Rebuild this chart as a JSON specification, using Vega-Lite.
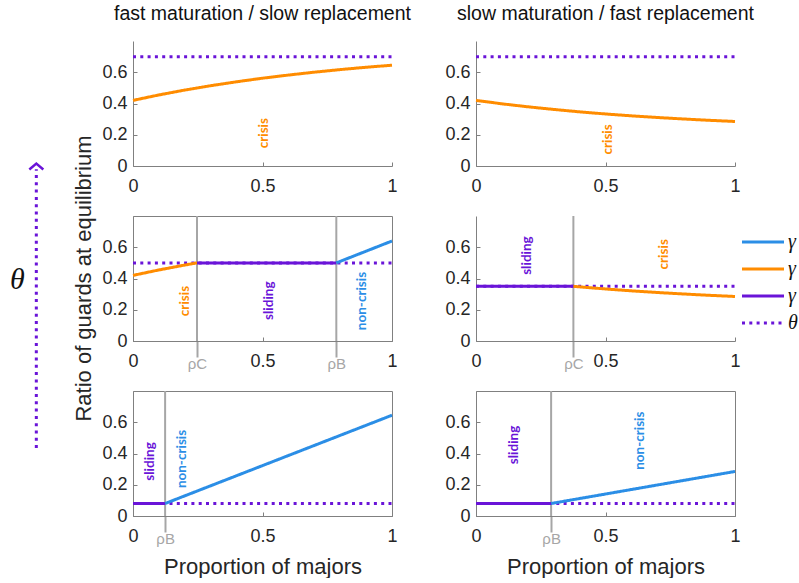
{
"$schema": "https://vega.github.io/schema/vega-lite/v6.json",
"background": "white",
"padding": {"left": 5, "top": 3, "right": 0, "bottom": 0},
"datasets": {
"lines": [
{"panel":"TL","series":"th","x":0,"y":0.7},{"panel":"TL","series":"th","x":1,"y":0.7},
{"panel":"TL","series":"c","x":0,"y":0.42},{"panel":"TL","series":"c","x":0.1,"y":0.4548},{"panel":"TL","series":"c","x":0.2,"y":0.486},{"panel":"TL","series":"c","x":0.3,"y":0.514},{"panel":"TL","series":"c","x":0.4,"y":0.539},{"panel":"TL","series":"c","x":0.5,"y":0.562},{"panel":"TL","series":"c","x":0.6,"y":0.582},{"panel":"TL","series":"c","x":0.7,"y":0.6005},{"panel":"TL","series":"c","x":0.8,"y":0.617},{"panel":"TL","series":"c","x":0.9,"y":0.632},{"panel":"TL","series":"c","x":1,"y":0.645},
{"panel":"TR","series":"th","x":0,"y":0.7},{"panel":"TR","series":"th","x":1,"y":0.7},
{"panel":"TR","series":"c","x":0,"y":0.42},{"panel":"TR","series":"c","x":0.1,"y":0.398},{"panel":"TR","series":"c","x":0.2,"y":0.379},{"panel":"TR","series":"c","x":0.3,"y":0.362},{"panel":"TR","series":"c","x":0.4,"y":0.3466},{"panel":"TR","series":"c","x":0.5,"y":0.333},{"panel":"TR","series":"c","x":0.6,"y":0.321},{"panel":"TR","series":"c","x":0.7,"y":0.3104},{"panel":"TR","series":"c","x":0.8,"y":0.301},{"panel":"TR","series":"c","x":0.9,"y":0.2925},{"panel":"TR","series":"c","x":1,"y":0.285},
{"panel":"ML","series":"th","x":0,"y":0.5},{"panel":"ML","series":"th","x":1,"y":0.5},
{"panel":"ML","series":"c","x":0,"y":0.42},{"panel":"ML","series":"c","x":0.1,"y":0.4548},{"panel":"ML","series":"c","x":0.2,"y":0.486},{"panel":"ML","series":"c","x":0.247,"y":0.5},
{"panel":"ML","series":"s","x":0.247,"y":0.5},{"panel":"ML","series":"s","x":0.785,"y":0.5},
{"panel":"ML","series":"nc","x":0.785,"y":0.5},{"panel":"ML","series":"nc","x":1,"y":0.64},
{"panel":"MR","series":"th","x":0,"y":0.35},{"panel":"MR","series":"th","x":1,"y":0.35},
{"panel":"MR","series":"s","x":0,"y":0.35},{"panel":"MR","series":"s","x":0.376,"y":0.35},
{"panel":"MR","series":"c","x":0.376,"y":0.35},{"panel":"MR","series":"c","x":0.4,"y":0.3466},{"panel":"MR","series":"c","x":0.5,"y":0.333},{"panel":"MR","series":"c","x":0.6,"y":0.321},{"panel":"MR","series":"c","x":0.7,"y":0.3104},{"panel":"MR","series":"c","x":0.8,"y":0.301},{"panel":"MR","series":"c","x":0.9,"y":0.2925},{"panel":"MR","series":"c","x":1,"y":0.285},
{"panel":"BL","series":"th","x":0,"y":0.08},{"panel":"BL","series":"th","x":1,"y":0.08},
{"panel":"BL","series":"s","x":0,"y":0.08},{"panel":"BL","series":"s","x":0.124,"y":0.08},
{"panel":"BL","series":"nc","x":0.124,"y":0.08},{"panel":"BL","series":"nc","x":1,"y":0.645},
{"panel":"BR","series":"th","x":0,"y":0.08},{"panel":"BR","series":"th","x":1,"y":0.08},
{"panel":"BR","series":"s","x":0,"y":0.08},{"panel":"BR","series":"s","x":0.29,"y":0.08},
{"panel":"BR","series":"nc","x":0.29,"y":0.08},{"panel":"BR","series":"nc","x":1,"y":0.285}
],
"labels": [
{"panel":"TL","series":"c","text":"crisis","x":0.507,"y":0.21},
{"panel":"TR","series":"c","text":"crisis","x":0.51,"y":0.17},
{"panel":"ML","series":"c","text":"crisis","x":0.2,"y":0.256},
{"panel":"ML","series":"s","text":"sliding","x":0.526,"y":0.258},
{"panel":"ML","series":"nc","text":"non-crisis","x":0.883,"y":0.256},
{"panel":"MR","series":"s","text":"sliding","x":0.198,"y":0.547},
{"panel":"MR","series":"c","text":"crisis","x":0.727,"y":0.555},
{"panel":"BL","series":"s","text":"sliding","x":0.066,"y":0.349},
{"panel":"BL","series":"nc","text":"non-crisis","x":0.188,"y":0.365},
{"panel":"BR","series":"s","text":"sliding","x":0.147,"y":0.455},
{"panel":"BR","series":"nc","text":"non-crisis","x":0.633,"y":0.482}
],
"rho": [
{"panel":"ML","x":0.247},{"panel":"ML","x":0.785},{"panel":"MR","x":0.376},{"panel":"BL","x":0.124},{"panel":"BR","x":0.29}
],
"strip": [
{"kind":"shaft","x":0.261,"y":0.143,"y2":0.73},
{"kind":"head","x":0.261,"y":0.742},
{"kind":"theta","x":0.104,"y":0.497,"label":"θ"},
{"kind":"title","x":0.658,"y":0.5,"label":"Ratio of guards at equilibrium"}
]
},
"spacing": 8,
"bounds": "flush",
"resolve": {"scale": {"color": "independent", "strokeDash": "independent"}, "legend": {"color": "independent", "strokeDash": "independent"}},
"hconcat": [
{
"width": 120, "height": 475,
"encoding": {
"x": {"field": "x", "type": "quantitative", "scale": {"domain": [0, 1], "nice": false}, "axis": null},
"y": {"field": "y", "type": "quantitative", "scale": {"domain": [0, 1], "nice": false}, "axis": null}
},
"layer": [
{"data": {"name": "strip"}, "transform": [{"filter": "datum.kind=='shaft'"}], "mark": {"type": "rule", "color": "#6a14d8", "strokeWidth": 3, "strokeDash": [3, 4.3]}, "encoding": {"y2": {"field": "y2"}}},
{"data": {"name": "strip"}, "transform": [{"filter": "datum.kind=='head'"}], "mark": {"type": "point", "shape": "M-1,0.85L0,0L1,0.85", "filled": false, "stroke": "#6a14d8", "strokeWidth": 2.5, "size": 196, "opacity": 1}, "encoding": {}},
{"data": {"name": "strip"}, "transform": [{"filter": "datum.kind=='theta'"}], "mark": {"type": "text", "font": "Liberation Serif", "fontStyle": "italic", "fontSize": 30, "color": "#111111", "baseline": "middle", "align": "center"}, "encoding": {"text": {"field": "label"}}},
{"data": {"name": "strip"}, "transform": [{"filter": "datum.kind=='title'"}], "mark": {"type": "text", "font": "Liberation Sans", "fontSize": 22, "color": "#262626", "angle": 270, "baseline": "middle", "align": "center"}, "encoding": {"text": {"field": "label"}}}
]
},
{
"columns": 2,
"spacing": {"row": 50, "column": 84},
"bounds": "flush",
"resolve": {"scale": {"color": "independent", "strokeDash": "independent"}, "legend": {"color": "independent", "strokeDash": "independent"}},
"concat": [
{
"width": 259, "height": 125,
"title": {"text": "fast maturation / slow replacement"},
"encoding": {"x": {"field": "x", "type": "quantitative", "scale": {"domain": [0, 1], "nice": false}, "axis": {"values": [0, 0.5, 1], "format": "~g", "title": null, "tickSize": -4, "labelPadding": 15}}},
"layer": [
{"data": {"name": "lines"}, "transform": [{"filter": "datum.panel=='TL' && datum.series=='th'"}], "mark": {"type": "line", "strokeWidth": 3}, "encoding": {
"y": {"field": "y", "type": "quantitative", "scale": {"domain": [0, 0.8], "nice": false}, "axis": {"values": [0, 0.2, 0.4, 0.6], "format": "~g", "title": null, "tickSize": -4, "labelPadding": 10}},
"color": {"field": "series", "type": "nominal", "scale": {"domain": ["nc", "c", "s", "th"], "range": ["#2b8ee6", "#ff8c00", "#6a14d8", "#6a14d8"]}, "legend": null},
"strokeDash": {"field": "series", "type": "nominal", "scale": {"domain": ["nc", "c", "s", "th"], "range": [[1, 0], [1, 0], [1, 0], [3, 4.3]]}, "legend": null}}},
{"data": {"name": "lines"}, "transform": [{"filter": "datum.panel=='TL' && datum.series!='th'"}], "mark": {"type": "line", "strokeWidth": 3}, "encoding": {
"y": {"field": "y", "type": "quantitative", "scale": {"domain": [0, 0.8], "nice": false}},
"color": {"field": "series", "type": "nominal", "scale": {"domain": ["nc", "c", "s", "th"], "range": ["#2b8ee6", "#ff8c00", "#6a14d8", "#6a14d8"]}, "legend": null},
"strokeDash": {"field": "series", "type": "nominal", "scale": {"domain": ["nc", "c", "s", "th"], "range": [[1, 0], [1, 0], [1, 0], [3, 4.3]]}, "legend": null}}},
{"data": {"name": "labels"}, "transform": [{"filter": "datum.panel=='TL'"}], "mark": {"type": "text", "angle": 270, "font": "Lato", "fontWeight": "bold", "fontSize": 13.5, "baseline": "middle", "align": "center"}, "encoding": {
"y": {"field": "y", "type": "quantitative", "scale": {"domain": [0, 0.8], "nice": false}},
"text": {"field": "text"},
"color": {"condition": [{"test": "datum.series=='c'", "value": "#ff8c00"}, {"test": "datum.series=='s'", "value": "#6a14d8"}], "value": "#2b8ee6"}}}
]
},
{
"width": 259, "height": 125,
"title": {"text": "slow maturation / fast replacement"},
"encoding": {"x": {"field": "x", "type": "quantitative", "scale": {"domain": [0, 1], "nice": false}, "axis": {"values": [0, 0.5, 1], "format": "~g", "title": null, "tickSize": -4, "labelPadding": 15}}},
"layer": [
{"data": {"name": "lines"}, "transform": [{"filter": "datum.panel=='TR' && datum.series=='th'"}], "mark": {"type": "line", "strokeWidth": 3}, "encoding": {
"y": {"field": "y", "type": "quantitative", "scale": {"domain": [0, 0.8], "nice": false}, "axis": {"values": [0, 0.2, 0.4, 0.6], "format": "~g", "title": null, "tickSize": -4, "labelPadding": 10}},
"color": {"field": "series", "type": "nominal", "scale": {"domain": ["nc", "c", "s", "th"], "range": ["#2b8ee6", "#ff8c00", "#6a14d8", "#6a14d8"]}, "legend": null},
"strokeDash": {"field": "series", "type": "nominal", "scale": {"domain": ["nc", "c", "s", "th"], "range": [[1, 0], [1, 0], [1, 0], [3, 4.3]]}, "legend": null}}},
{"data": {"name": "lines"}, "transform": [{"filter": "datum.panel=='TR' && datum.series!='th'"}], "mark": {"type": "line", "strokeWidth": 3}, "encoding": {
"y": {"field": "y", "type": "quantitative", "scale": {"domain": [0, 0.8], "nice": false}},
"color": {"field": "series", "type": "nominal", "scale": {"domain": ["nc", "c", "s", "th"], "range": ["#2b8ee6", "#ff8c00", "#6a14d8", "#6a14d8"]}, "legend": null},
"strokeDash": {"field": "series", "type": "nominal", "scale": {"domain": ["nc", "c", "s", "th"], "range": [[1, 0], [1, 0], [1, 0], [3, 4.3]]}, "legend": null}}},
{"data": {"name": "labels"}, "transform": [{"filter": "datum.panel=='TR'"}], "mark": {"type": "text", "angle": 270, "font": "Lato", "fontWeight": "bold", "fontSize": 13.5, "baseline": "middle", "align": "center"}, "encoding": {
"y": {"field": "y", "type": "quantitative", "scale": {"domain": [0, 0.8], "nice": false}},
"text": {"field": "text"},
"color": {"condition": [{"test": "datum.series=='c'", "value": "#ff8c00"}, {"test": "datum.series=='s'", "value": "#6a14d8"}], "value": "#2b8ee6"}}}
]
},
{
"width": 259, "height": 125,
"view": {"stroke": "#808080"},
"encoding": {"x": {"field": "x", "type": "quantitative", "scale": {"domain": [0, 1], "nice": false}, "axis": {"values": [0, 0.247, 0.5, 0.785, 1], "format": "~g", "title": null, "labelExpr": "datum.value==0.247?'ρC':datum.value==0.785?'ρB':datum.label",
"tickSize": {"condition": {"test": "datum.value!=0 && datum.value!=0.5 && datum.value!=1", "value": 16}, "value": -4},
"tickColor": {"condition": {"test": "datum.value!=0 && datum.value!=0.5 && datum.value!=1", "value": "#a6a6a6"}, "value": "#808080"},
"tickWidth": {"condition": {"test": "datum.value!=0 && datum.value!=0.5 && datum.value!=1", "value": 2}, "value": 1},
"labelColor": {"condition": {"test": "datum.value!=0 && datum.value!=0.5 && datum.value!=1", "value": "#a6a6a6"}, "value": "#262626"},
"labelFontSize": {"condition": {"test": "datum.value!=0 && datum.value!=0.5 && datum.value!=1", "value": 15}, "value": 18},
"labelPadding": {"condition": {"test": "datum.value!=0 && datum.value!=0.5 && datum.value!=1", "value": -1}, "value": 15}}}},
"layer": [
{"data": {"name": "rho"}, "transform": [{"filter": "datum.panel=='ML'"}], "mark": {"type": "rule", "color": "#a6a6a6", "strokeWidth": 2}, "encoding": {}},
{"data": {"name": "lines"}, "transform": [{"filter": "datum.panel=='ML' && datum.series=='th'"}], "mark": {"type": "line", "strokeWidth": 3}, "encoding": {
"y": {"field": "y", "type": "quantitative", "scale": {"domain": [0, 0.8], "nice": false}, "axis": {"values": [0, 0.2, 0.4, 0.6], "format": "~g", "title": null, "tickSize": -4, "labelPadding": 10}},
"color": {"field": "series", "type": "nominal", "scale": {"domain": ["nc", "c", "s", "th"], "range": ["#2b8ee6", "#ff8c00", "#6a14d8", "#6a14d8"]}, "legend": null},
"strokeDash": {"field": "series", "type": "nominal", "scale": {"domain": ["nc", "c", "s", "th"], "range": [[1, 0], [1, 0], [1, 0], [3, 4.3]]}, "legend": null}}},
{"data": {"name": "lines"}, "transform": [{"filter": "datum.panel=='ML' && datum.series!='th'"}], "mark": {"type": "line", "strokeWidth": 3}, "encoding": {
"y": {"field": "y", "type": "quantitative", "scale": {"domain": [0, 0.8], "nice": false}},
"color": {"field": "series", "type": "nominal", "scale": {"domain": ["nc", "c", "s", "th"], "range": ["#2b8ee6", "#ff8c00", "#6a14d8", "#6a14d8"]}, "legend": null},
"strokeDash": {"field": "series", "type": "nominal", "scale": {"domain": ["nc", "c", "s", "th"], "range": [[1, 0], [1, 0], [1, 0], [3, 4.3]]}, "legend": null}}},
{"data": {"name": "labels"}, "transform": [{"filter": "datum.panel=='ML'"}], "mark": {"type": "text", "angle": 270, "font": "Lato", "fontWeight": "bold", "fontSize": 13.5, "baseline": "middle", "align": "center"}, "encoding": {
"y": {"field": "y", "type": "quantitative", "scale": {"domain": [0, 0.8], "nice": false}},
"text": {"field": "text"},
"color": {"condition": [{"test": "datum.series=='c'", "value": "#ff8c00"}, {"test": "datum.series=='s'", "value": "#6a14d8"}], "value": "#2b8ee6"}}}
]
},
{
"width": 259, "height": 125,
"encoding": {"x": {"field": "x", "type": "quantitative", "scale": {"domain": [0, 1], "nice": false}, "axis": {"values": [0, 0.376, 0.5, 1], "format": "~g", "title": null, "labelExpr": "datum.value==0.376?'ρC':datum.label",
"tickSize": {"condition": {"test": "datum.value!=0 && datum.value!=0.5 && datum.value!=1", "value": 16}, "value": -4},
"tickColor": {"condition": {"test": "datum.value!=0 && datum.value!=0.5 && datum.value!=1", "value": "#a6a6a6"}, "value": "#808080"},
"tickWidth": {"condition": {"test": "datum.value!=0 && datum.value!=0.5 && datum.value!=1", "value": 2}, "value": 1},
"labelColor": {"condition": {"test": "datum.value!=0 && datum.value!=0.5 && datum.value!=1", "value": "#a6a6a6"}, "value": "#262626"},
"labelFontSize": {"condition": {"test": "datum.value!=0 && datum.value!=0.5 && datum.value!=1", "value": 15}, "value": 18},
"labelPadding": {"condition": {"test": "datum.value!=0 && datum.value!=0.5 && datum.value!=1", "value": -1}, "value": 15}}}},
"layer": [
{"data": {"name": "rho"}, "transform": [{"filter": "datum.panel=='MR'"}], "mark": {"type": "rule", "color": "#a6a6a6", "strokeWidth": 2}, "encoding": {}},
{"data": {"name": "lines"}, "transform": [{"filter": "datum.panel=='MR' && datum.series=='th'"}], "mark": {"type": "line", "strokeWidth": 3}, "encoding": {
"y": {"field": "y", "type": "quantitative", "scale": {"domain": [0, 0.8], "nice": false}, "axis": {"values": [0, 0.2, 0.4, 0.6], "format": "~g", "title": null, "tickSize": -4, "labelPadding": 10}},
"color": {"field": "series", "type": "nominal", "scale": {"domain": ["nc", "c", "s", "th"], "range": ["#2b8ee6", "#ff8c00", "#6a14d8", "#6a14d8"]}, "legend": {"orient": "none", "legendX": 277, "legendY": 16, "title": null, "labelExpr": "datum.value=='th'?'θ':'γ'", "symbolType": "M-2.625,0H2.625", "symbolSize": 256, "symbolStrokeWidth": 3, "labelFont": "Liberation Serif", "labelFontStyle": "italic", "labelFontSize": 20, "labelColor": "#111111", "rowPadding": 7, "labelOffset": 15}},
"strokeDash": {"field": "series", "type": "nominal", "scale": {"domain": ["nc", "c", "s", "th"], "range": [[1, 0], [1, 0], [1, 0], [3, 4.3]]}, "legend": {"orient": "none", "legendX": 277, "legendY": 16, "title": null, "labelExpr": "datum.value=='th'?'θ':'γ'", "symbolType": "M-2.625,0H2.625", "symbolSize": 256, "symbolStrokeWidth": 3, "labelFont": "Liberation Serif", "labelFontStyle": "italic", "labelFontSize": 20, "labelColor": "#111111", "rowPadding": 7, "labelOffset": 15}}}},
{"data": {"name": "lines"}, "transform": [{"filter": "datum.panel=='MR' && datum.series!='th'"}], "mark": {"type": "line", "strokeWidth": 3}, "encoding": {
"y": {"field": "y", "type": "quantitative", "scale": {"domain": [0, 0.8], "nice": false}},
"color": {"field": "series", "type": "nominal", "scale": {"domain": ["nc", "c", "s", "th"], "range": ["#2b8ee6", "#ff8c00", "#6a14d8", "#6a14d8"]}},
"strokeDash": {"field": "series", "type": "nominal", "scale": {"domain": ["nc", "c", "s", "th"], "range": [[1, 0], [1, 0], [1, 0], [3, 4.3]]}}}},
{"data": {"name": "labels"}, "transform": [{"filter": "datum.panel=='MR'"}], "mark": {"type": "text", "angle": 270, "font": "Lato", "fontWeight": "bold", "fontSize": 13.5, "baseline": "middle", "align": "center"}, "encoding": {
"y": {"field": "y", "type": "quantitative", "scale": {"domain": [0, 0.8], "nice": false}},
"text": {"field": "text"},
"color": {"condition": [{"test": "datum.series=='c'", "value": "#ff8c00"}, {"test": "datum.series=='s'", "value": "#6a14d8"}], "value": "#2b8ee6"}}}
]
},
{
"width": 259, "height": 125,
"view": {"stroke": "#808080"},
"encoding": {"x": {"field": "x", "type": "quantitative", "scale": {"domain": [0, 1], "nice": false}, "axis": {"values": [0, 0.124, 0.5, 1], "format": "~g", "title": "Proportion of majors", "titlePadding": 10, "labelExpr": "datum.value==0.124?'ρB':datum.label",
"tickSize": {"condition": {"test": "datum.value!=0 && datum.value!=0.5 && datum.value!=1", "value": 16}, "value": -4},
"tickColor": {"condition": {"test": "datum.value!=0 && datum.value!=0.5 && datum.value!=1", "value": "#a6a6a6"}, "value": "#808080"},
"tickWidth": {"condition": {"test": "datum.value!=0 && datum.value!=0.5 && datum.value!=1", "value": 2}, "value": 1},
"labelColor": {"condition": {"test": "datum.value!=0 && datum.value!=0.5 && datum.value!=1", "value": "#a6a6a6"}, "value": "#262626"},
"labelFontSize": {"condition": {"test": "datum.value!=0 && datum.value!=0.5 && datum.value!=1", "value": 15}, "value": 18},
"labelPadding": {"condition": {"test": "datum.value!=0 && datum.value!=0.5 && datum.value!=1", "value": -1}, "value": 15}}}},
"layer": [
{"data": {"name": "rho"}, "transform": [{"filter": "datum.panel=='BL'"}], "mark": {"type": "rule", "color": "#a6a6a6", "strokeWidth": 2}, "encoding": {}},
{"data": {"name": "lines"}, "transform": [{"filter": "datum.panel=='BL' && datum.series=='th'"}], "mark": {"type": "line", "strokeWidth": 3}, "encoding": {
"y": {"field": "y", "type": "quantitative", "scale": {"domain": [0, 0.8], "nice": false}, "axis": {"values": [0, 0.2, 0.4, 0.6], "format": "~g", "title": null, "tickSize": -4, "labelPadding": 10}},
"color": {"field": "series", "type": "nominal", "scale": {"domain": ["nc", "c", "s", "th"], "range": ["#2b8ee6", "#ff8c00", "#6a14d8", "#6a14d8"]}, "legend": null},
"strokeDash": {"field": "series", "type": "nominal", "scale": {"domain": ["nc", "c", "s", "th"], "range": [[1, 0], [1, 0], [1, 0], [3, 4.3]]}, "legend": null}}},
{"data": {"name": "lines"}, "transform": [{"filter": "datum.panel=='BL' && datum.series!='th'"}], "mark": {"type": "line", "strokeWidth": 3}, "encoding": {
"y": {"field": "y", "type": "quantitative", "scale": {"domain": [0, 0.8], "nice": false}},
"color": {"field": "series", "type": "nominal", "scale": {"domain": ["nc", "c", "s", "th"], "range": ["#2b8ee6", "#ff8c00", "#6a14d8", "#6a14d8"]}, "legend": null},
"strokeDash": {"field": "series", "type": "nominal", "scale": {"domain": ["nc", "c", "s", "th"], "range": [[1, 0], [1, 0], [1, 0], [3, 4.3]]}, "legend": null}}},
{"data": {"name": "labels"}, "transform": [{"filter": "datum.panel=='BL'"}], "mark": {"type": "text", "angle": 270, "font": "Lato", "fontWeight": "bold", "fontSize": 13.5, "baseline": "middle", "align": "center"}, "encoding": {
"y": {"field": "y", "type": "quantitative", "scale": {"domain": [0, 0.8], "nice": false}},
"text": {"field": "text"},
"color": {"condition": [{"test": "datum.series=='c'", "value": "#ff8c00"}, {"test": "datum.series=='s'", "value": "#6a14d8"}], "value": "#2b8ee6"}}}
]
},
{
"width": 259, "height": 125,
"view": {"stroke": "#808080"},
"encoding": {"x": {"field": "x", "type": "quantitative", "scale": {"domain": [0, 1], "nice": false}, "axis": {"values": [0, 0.29, 0.5, 1], "format": "~g", "title": "Proportion of majors", "titlePadding": 10, "labelExpr": "datum.value==0.29?'ρB':datum.label",
"tickSize": {"condition": {"test": "datum.value!=0 && datum.value!=0.5 && datum.value!=1", "value": 16}, "value": -4},
"tickColor": {"condition": {"test": "datum.value!=0 && datum.value!=0.5 && datum.value!=1", "value": "#a6a6a6"}, "value": "#808080"},
"tickWidth": {"condition": {"test": "datum.value!=0 && datum.value!=0.5 && datum.value!=1", "value": 2}, "value": 1},
"labelColor": {"condition": {"test": "datum.value!=0 && datum.value!=0.5 && datum.value!=1", "value": "#a6a6a6"}, "value": "#262626"},
"labelFontSize": {"condition": {"test": "datum.value!=0 && datum.value!=0.5 && datum.value!=1", "value": 15}, "value": 18},
"labelPadding": {"condition": {"test": "datum.value!=0 && datum.value!=0.5 && datum.value!=1", "value": -1}, "value": 15}}}},
"layer": [
{"data": {"name": "rho"}, "transform": [{"filter": "datum.panel=='BR'"}], "mark": {"type": "rule", "color": "#a6a6a6", "strokeWidth": 2}, "encoding": {}},
{"data": {"name": "lines"}, "transform": [{"filter": "datum.panel=='BR' && datum.series=='th'"}], "mark": {"type": "line", "strokeWidth": 3}, "encoding": {
"y": {"field": "y", "type": "quantitative", "scale": {"domain": [0, 0.8], "nice": false}, "axis": {"values": [0, 0.2, 0.4, 0.6], "format": "~g", "title": null, "tickSize": -4, "labelPadding": 10}},
"color": {"field": "series", "type": "nominal", "scale": {"domain": ["nc", "c", "s", "th"], "range": ["#2b8ee6", "#ff8c00", "#6a14d8", "#6a14d8"]}, "legend": null},
"strokeDash": {"field": "series", "type": "nominal", "scale": {"domain": ["nc", "c", "s", "th"], "range": [[1, 0], [1, 0], [1, 0], [3, 4.3]]}, "legend": null}}},
{"data": {"name": "lines"}, "transform": [{"filter": "datum.panel=='BR' && datum.series!='th'"}], "mark": {"type": "line", "strokeWidth": 3}, "encoding": {
"y": {"field": "y", "type": "quantitative", "scale": {"domain": [0, 0.8], "nice": false}},
"color": {"field": "series", "type": "nominal", "scale": {"domain": ["nc", "c", "s", "th"], "range": ["#2b8ee6", "#ff8c00", "#6a14d8", "#6a14d8"]}, "legend": null},
"strokeDash": {"field": "series", "type": "nominal", "scale": {"domain": ["nc", "c", "s", "th"], "range": [[1, 0], [1, 0], [1, 0], [3, 4.3]]}, "legend": null}}},
{"data": {"name": "labels"}, "transform": [{"filter": "datum.panel=='BR'"}], "mark": {"type": "text", "angle": 270, "font": "Lato", "fontWeight": "bold", "fontSize": 13.5, "baseline": "middle", "align": "center"}, "encoding": {
"y": {"field": "y", "type": "quantitative", "scale": {"domain": [0, 0.8], "nice": false}},
"text": {"field": "text"},
"color": {"condition": [{"test": "datum.series=='c'", "value": "#ff8c00"}, {"test": "datum.series=='s'", "value": "#6a14d8"}], "value": "#2b8ee6"}}}
]
}
]
}
],
"config": {
"font": "Liberation Sans",
"view": {"stroke": null},
"axis": {"labelFont": "Liberation Sans", "labelFontSize": 18, "labelColor": "#262626", "domainColor": "#808080", "tickColor": "#808080", "grid": false, "labelFlush": false, "labelOverlap": false, "labelBound": false, "titleFont": "Liberation Sans", "titleFontSize": 22, "titleFontWeight": "normal", "titleColor": "#262626", "domainWidth": 1},
"title": {"font": "Liberation Sans", "fontSize": 19.5, "fontWeight": "normal", "color": "#111111", "anchor": "middle", "offset": 17}
}
}
